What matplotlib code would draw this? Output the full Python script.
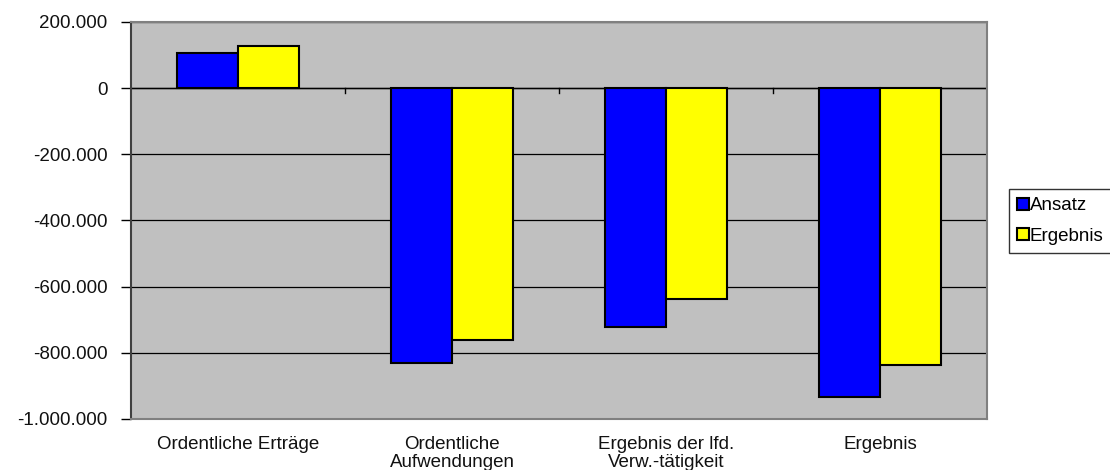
import matplotlib
matplotlib.use("Agg")
import matplotlib.pyplot as plt
import matplotlib.ticker as mticker
import numpy as np

plt.rcParams['font.family'] = ['Liberation Sans', 'DejaVu Sans']

############### Data ###############
categories = ["Ordentliche Erträge", "Ordentliche\nAufwendungen",
              "Ergebnis der lfd.\nVerw.-tätigkeit", "Ergebnis"]
ansatz = [107000, -832000, -722000, -933000]
ergebnis = [127000, -762000, -637000, -836000]
series_names = ["Ansatz", "Ergebnis"]
yticks = [200000, 0, -200000, -400000, -600000, -800000, -1000000]


def de_fmt(v, pos=None):
    # German thousands separator
    return "{:,.0f}".format(v).replace(",", ".")


############### Plot ###############
fig = plt.figure(figsize=(11.1, 4.7), dpi=100)
ax = fig.add_axes([131 / 1110, 1 - 419 / 470, 856 / 1110, 397 / 470])
ax.set_facecolor("#C0C0C0")

x = np.arange(len(categories))
w = 0.285
ax.bar(x - w / 2, ansatz, w, color="#0000FF", edgecolor="black", linewidth=1.5,
       label=series_names[0], zorder=3)
ax.bar(x + w / 2, ergebnis, w, color="#FFFF00", edgecolor="black", linewidth=1.5,
       label=series_names[1], zorder=3)

ax.set_xlim(-0.5, len(categories) - 0.5)
ax.set_ylim(-1000000, 200000)
ax.set_yticks(yticks)
ax.yaxis.set_major_formatter(mticker.FuncFormatter(de_fmt))
ax.yaxis.grid(True, color="black", linewidth=0.9, zorder=1)
ax.axhline(0, color="black", linewidth=1, zorder=2)

# category labels at bottom, ticks between categories on the zero line
ax.set_xticks([])
for i, c in enumerate(categories):
    ax.text(i, -0.043, c, transform=ax.get_xaxis_transform(), ha="center", va="top",
            fontsize=13.5, color="#111111", linespacing=1.08)
for b in np.arange(0.5, len(categories) - 0.5, 1):
    ax.plot([b, b], [0, -14000], color="black", linewidth=1, zorder=2)

ax.tick_params(axis="y", length=7, width=1, labelsize=13.5, pad=10,
               colors="black", labelcolor="#111111")
for side in ["top", "right", "bottom"]:
    ax.spines[side].set_color("#808080")
    ax.spines[side].set_linewidth(1.5)
ax.spines["left"].set_color("#404040")
ax.spines["left"].set_linewidth(1.5)

leg = fig.legend(loc="upper left", bbox_to_anchor=(1009 / 1110, 1 - 189 / 470),
                 fontsize=13.5, frameon=True, fancybox=False, handlelength=0.6,
                 handleheight=0.6, handletextpad=0.05, borderpad=0.45,
                 labelspacing=0.7, borderaxespad=0)
leg.get_frame().set_edgecolor("black")
leg.get_frame().set_linewidth(1)

fig.savefig("out.png", dpi=100)
